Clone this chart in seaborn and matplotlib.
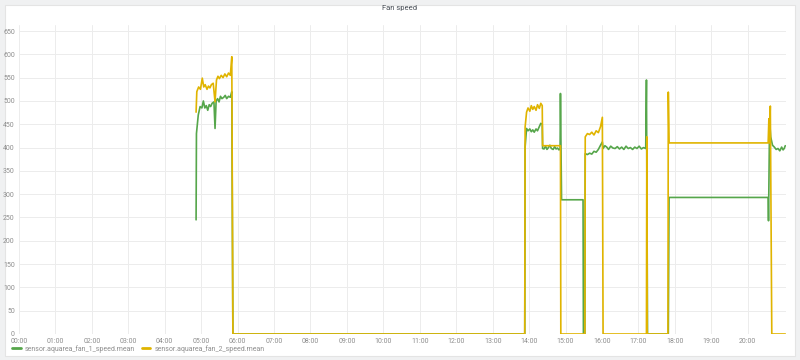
import numpy as np
import pandas as pd
import matplotlib
matplotlib.use("Agg")
import matplotlib.pyplot as plt
import seaborn as sns
from matplotlib.patches import Rectangle
from matplotlib.lines import Line2D

title = "Fan speed"
series_names = ["sensor.aquarea_fan_1_speed.mean", "sensor.aquarea_fan_2_speed.mean"]
colors = ["#56A64B", "#E0B400"]
hour_ticks = list(range(0, 21))
hour_labels = [f"{h:02d}:00" for h in hour_ticks]
y_ticks = list(range(0, 651, 50))

fan1_hours = [4.86, 4.87, 4.92, 4.97, 5.02, 5.06, 5.10, 5.14, 5.18, 5.22, 5.26, 5.30, 5.35, 5.38,
              5.41, 5.45, 5.49, 5.53, 5.57, 5.62, 5.66, 5.70, 5.75, 5.80, 5.84, 5.87,
              13.88, 13.89, 13.93, 13.97, 14.02, 14.06, 14.10, 14.14, 14.19, 14.23, 14.28, 14.32, 14.36,
              14.37, 14.41, 14.45, 14.49, 14.53, 14.57, 14.61, 14.66, 14.70, 14.74, 14.78, 14.82, 14.85,
              14.86, 14.89, 15.48, 15.49, 15.53, 15.54, 15.60, 15.66, 15.72, 15.78, 15.84, 15.90, 15.96,
              16.01, 16.03, 16.08, 16.13, 16.18, 16.24, 16.30, 16.36, 16.42, 16.48, 16.54, 16.60, 16.66,
              16.72, 16.78, 16.84, 16.90, 16.96, 17.02, 17.08, 17.14, 17.20, 17.22, 17.25, 17.82, 17.84,
              20.56, 20.57, 20.60, 20.63, 20.68, 20.73, 20.78, 20.83, 20.88, 20.93, 20.97, 21.00, 21.03]
fan1_speed = [245, 430, 470, 488, 485, 500, 485, 490, 480, 492, 488, 495, 498, 441,
              500, 505, 498, 510, 505, 508, 512, 505, 510, 508, 520, 0,
              0, 401, 441, 436, 440, 434, 438, 433, 440, 436, 445, 452, 450,
              398, 397, 403, 396, 400, 405, 398, 396, 402, 397, 399, 395, 398,
              516, 288, 288, 0, 0, 387, 385, 388, 386, 392, 390, 396, 405,
              412, 398, 404, 401, 396, 403, 399, 398, 402, 397, 401, 396, 403,
              398, 400, 396, 401, 398, 403, 397, 400, 398, 545, 0, 0, 293,
              293, 243, 458, 423, 405, 401, 396, 398, 393, 401, 395, 398, 404]

fan2_hours = [4.86, 4.88, 4.93, 4.98, 5.03, 5.07, 5.11, 5.16, 5.20, 5.24, 5.28, 5.33, 5.38,
              5.42, 5.46, 5.50, 5.55, 5.60, 5.65, 5.70, 5.75, 5.80, 5.84, 5.87,
              13.88, 13.89, 13.93, 13.97, 14.02, 14.06, 14.10, 14.14, 14.19, 14.23, 14.28, 14.32, 14.36,
              14.37, 14.86, 14.87, 15.53, 15.54, 15.60, 15.66, 15.72, 15.78, 15.84, 15.90, 15.96,
              16.01, 16.03, 17.22, 17.23, 17.24, 17.81, 17.82, 17.84, 20.56, 20.58, 20.59, 20.62,
              20.66, 21.03]
fan2_speed = [476, 520, 530, 525, 549, 530, 535, 525, 532, 528, 535, 538, 498,
              545, 553, 548, 555, 550, 558, 552, 560, 555, 595, 0,
              0, 444, 476, 485, 478, 490, 482, 488, 480, 492, 484, 495, 490,
              404, 404, 0, 0, 423, 430, 428, 433, 427, 436, 432, 445,
              465, 0, 0, 423, 0, 0, 519, 410, 410, 462, 410, 489,
              0, 0]

df = pd.concat([
    pd.DataFrame({"hour": fan1_hours, "speed": fan1_speed, "series": series_names[0]}),
    pd.DataFrame({"hour": fan2_hours, "speed": fan2_speed, "series": series_names[1]}),
], ignore_index=True)

sns.set_theme(style="white")
plt.rcParams["font.family"] = ["Roboto", "DejaVu Sans"]

fig = plt.figure(figsize=(8, 3.6), dpi=100, facecolor="#f0f1f2")
panel = Rectangle((5 / 800, 4 / 360), 790 / 800, 351 / 360, transform=fig.transFigure,
                  facecolor="white", edgecolor="#e4e4e4", linewidth=0.8, zorder=-10)
fig.add_artist(panel)
ax = fig.add_axes([19 / 800, 1 - 334 / 360, 767 / 800, 309 / 360])
ax.set_zorder(1)
ax.set_facecolor("white")

sns.lineplot(data=df, x="hour", y="speed", hue="series", palette=colors, sort=False,
             estimator=None, linewidth=1.2, ax=ax, legend=False)

ax.set_xlim(0, 21.05)
ax.set_ylim(0, 663)
ax.set_xticks(hour_ticks)
ax.set_xticklabels(hour_labels)
ax.set_yticks(y_ticks)
ax.set_yticklabels([str(v) for v in y_ticks])
ax.tick_params(axis="both", labelsize=5, colors="#8e8e8e", length=0, pad=3)
ax.grid(True, color="#ececec", linewidth=0.7)
ax.set_axisbelow(True)
for s in ax.spines.values():
    s.set_visible(False)
ax.set_xlabel("")
ax.set_ylabel("")

fig.text(0.5, 1 - 8 / 360, title, ha="center", va="center", fontsize=5.5, color="#464c54")

handles = [Line2D([0], [0], color=c, linewidth=2) for c in colors]
fig.legend(handles, series_names, loc="center left", bbox_to_anchor=(6 / 800, 1 - 349 / 360),
           ncol=2, frameon=False, fontsize=5, handlelength=1.2, handletextpad=0.6,
           columnspacing=1.0, labelcolor="#8e8e8e")

fig.savefig("out.png", dpi=100, facecolor=fig.get_facecolor())
